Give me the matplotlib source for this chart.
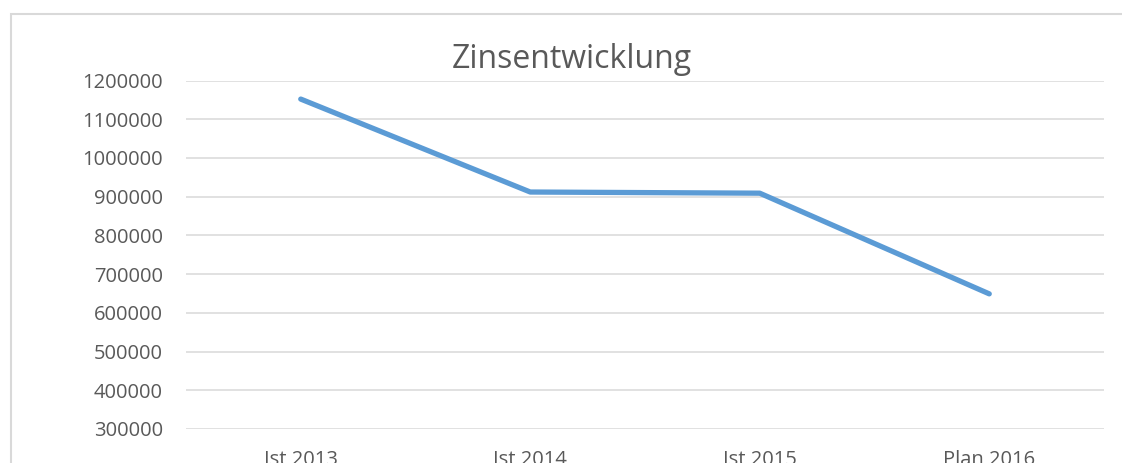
import matplotlib.pyplot as plt
from matplotlib.patches import Rectangle

# Daten
kategorien = ["Ist 2013", "Ist 2014", "Ist 2015", "Plan 2016"]
zinsen = [1152000, 912000, 909000, 649000]
y_ticks = [300000, 400000, 500000, 600000, 700000, 800000, 900000, 1000000, 1100000, 1200000]

plt.rcParams['font.family'] = ['Open Sans', 'DejaVu Sans']
text_farbe = '#595959'
gitter_farbe = '#D9D9D9'

fig = plt.figure(figsize=(11.22, 4.63), dpi=100)

# Rahmen des Diagrammbereichs (unten und rechts abgeschnitten)
fig.patches.append(Rectangle((11 / 1122, -0.2), 1.2, 0.2 + (1 - 14 / 463),
                             transform=fig.transFigure, fill=False,
                             edgecolor=gitter_farbe, linewidth=1.5))

ax = fig.add_axes([186 / 1122, 1 - 429 / 463, (1104 - 186) / 1122, (429 - 80.5) / 463])

x = range(len(kategorien))
ax.plot(x, zinsen, color='#5B9BD5', linewidth=3.8, solid_capstyle='round',
        solid_joinstyle='round', zorder=3)

ax.set_xlim(-0.5, len(kategorien) - 0.5)
ax.set_ylim(300000, 1200000)
ax.set_yticks(y_ticks)
ax.set_yticklabels([str(v) for v in y_ticks])
ax.set_xticks(list(x))
ax.set_xticklabels(kategorien)

ax.grid(axis='y', color=gitter_farbe, linewidth=1.1, zorder=0)
ax.set_axisbelow(True)
for s in ax.spines.values():
    s.set_visible(False)
ax.tick_params(axis='y', length=0, pad=16.5, labelsize=14.5, labelcolor=text_farbe)
ax.tick_params(axis='x', length=0, pad=15, labelsize=14.5, labelcolor=text_farbe)

fig.text(572 / 1122, 1 - 59 / 463, "Zinsentwicklung", ha='center', va='center',
         fontsize=23, color=text_farbe)

fig.savefig('out.png', dpi=100)
